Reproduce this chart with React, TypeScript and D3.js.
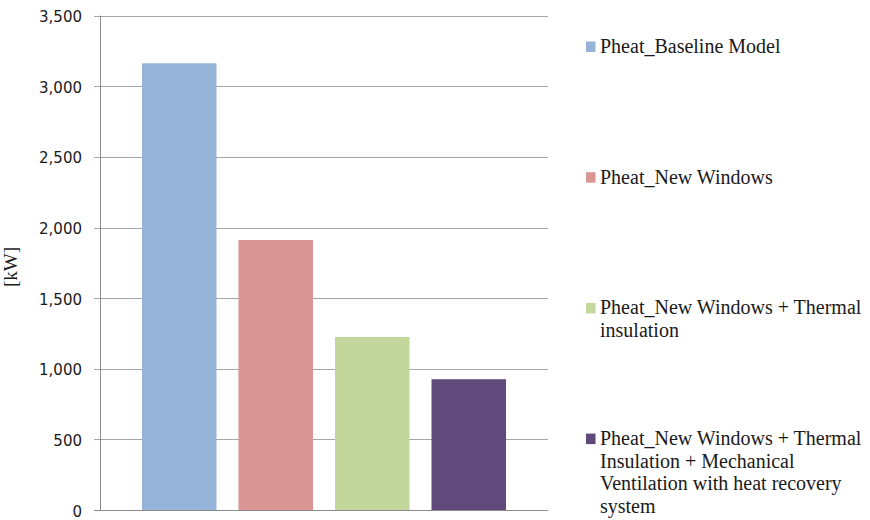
import React from "react";
import * as d3 from "d3";

const seriesNames = [
  "Pheat_Baseline Model",
  "Pheat_New Windows",
  "Pheat_New Windows + Thermal insulation",
  "Pheat_New Windows + Thermal Insulation + Mechanical Ventilation with heat recovery system",
];
const legendLines = [
  ["Pheat_Baseline Model"],
  ["Pheat_New Windows"],
  ["Pheat_New Windows + Thermal", "insulation"],
  ["Pheat_New Windows + Thermal", "Insulation + Mechanical", "Ventilation with heat recovery", "system"],
];
const values = [3163, 1912, 1225, 926];
const colors = ["#95B3D7", "#D99694", "#C3D69B", "#604A7B"];
const yTicks = [0, 500, 1000, 1500, 2000, 2500, 3000, 3500];
const yLabel = "[kW]";

const W = 870;
const H = 520;
const plot = { left: 100, right: 548, top: 15.7, bottom: 510 };
const SERIF = "'Liberation Serif', 'Times New Roman', Times, 'DejaVu Serif', serif";
const SANS = "'DejaVu Sans', Verdana, sans-serif";

export default function App() {
  const y = d3.scaleLinear().domain([0, 3500]).range([plot.bottom, plot.top]);
  const x = d3
    .scaleBand<string>()
    .domain(seriesNames)
    .range([plot.left, plot.right])
    .paddingInner(0.228)
    .paddingOuter(0.435);
  const fmt = d3.format(",");

  const legendX = 586;
  const legendTextX = 600;
  const legendBase = 53;
  const legendStep = 130.7;
  const lineH = 22.5;

  return (
    <svg
      width={W}
      height={H}
      style={{ position: "absolute", left: 0, top: 0, background: "#fff" }}
    >
      {yTicks.map((t) => (
        <line
          key={"g" + t}
          x1={94}
          x2={plot.right}
          y1={Math.round(y(t)) + 0.5}
          y2={Math.round(y(t)) + 0.5}
          stroke={t === 0 ? "#8c8c8c" : "#a6a6a6"}
          strokeWidth={1}
        />
      ))}
      <line
        x1={plot.left + 0.5}
        x2={plot.left + 0.5}
        y1={plot.top}
        y2={plot.bottom + 0.5}
        stroke="#8c8c8c"
        strokeWidth={1}
      />
      {yTicks.map((t) => (
        <text
          key={"t" + t}
          x={82}
          y={y(t) + 1.5}
          textAnchor="end"
          dominantBaseline="central"
          style={{ fontFamily: SANS, fontSize: 15 }}
          fill="#1a1a1a"
        >
          {fmt(t)}
        </text>
      ))}
      <text
        transform={`translate(17,267) rotate(-90)`}
        textAnchor="middle"
        style={{ fontFamily: SERIF, fontSize: 19 }}
        fill="#1a1a1a"
      >
        {yLabel}
      </text>
      {seriesNames.map((s, i) => (
        <rect
          key={"b" + i}
          x={x(s)}
          y={y(values[i])}
          width={x.bandwidth()}
          height={plot.bottom - y(values[i])}
          fill={colors[i]}
        />
      ))}
      {legendLines.map((lines, i) => {
        const base = legendBase + legendStep * i;
        return (
          <g key={"l" + i}>
            <rect x={legendX} y={base - 11.5} width={9.5} height={10.5} fill={colors[i]} />
            <text style={{ fontFamily: SERIF, fontSize: 20 }} fill="#1a1a1a">
              {lines.map((ln, j) => (
                <tspan key={j} x={legendTextX} y={base + j * lineH}>
                  {ln}
                </tspan>
              ))}
            </text>
          </g>
        );
      })}
    </svg>
  );
}
